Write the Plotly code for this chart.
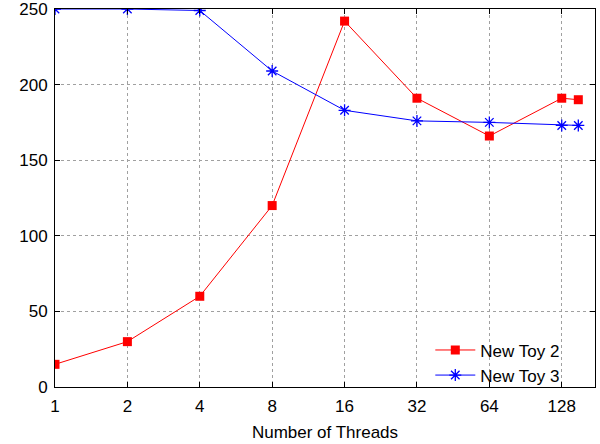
import math
import plotly.graph_objects as go

threads = [1, 2, 4, 8, 16, 32, 64, 128, 150]
tick_vals = [1, 2, 4, 8, 16, 32, 64, 128]
tick_text = ["1", "2", "4", "8", "16", "32", "64", "128"]
y_ticks = [0, 50, 100, 150, 200, 250]
toy2 = [15, 30, 60, 120, 242, 191, 166, 191, 190]
toy3 = [250, 250, 249, 209, 183, 176, 175, 173, 173]

FONT = "Liberation Sans, Arial, sans-serif"

fig = go.Figure()
fig.add_trace(go.Scatter(
    x=threads, y=toy2, name="New Toy 2", mode="lines+markers",
    line=dict(color="#ff0000", width=1),
    marker=dict(symbol="square", size=9, color="#ff0000"),
))
fig.add_trace(go.Scatter(
    x=threads, y=toy3, name="New Toy 3", mode="lines+markers",
    line=dict(color="#0000ff", width=1),
    marker=dict(symbol="asterisk-open", size=10, color="#0000ff",
                line=dict(color="#0000ff", width=1.3)),
))

fig.update_layout(
    width=600, height=444,
    margin=dict(l=55, r=5, t=9, b=57, autoexpand=False),
    paper_bgcolor="white", plot_bgcolor="white",
    font=dict(family=FONT, size=17, color="black"),
    showlegend=True,
    legend=dict(x=0.945, y=-0.017, xanchor="right", yanchor="bottom",
                bgcolor="rgba(0,0,0,0)", font=dict(size=17),
                itemwidth=40, tracegroupgap=0),
    xaxis=dict(
        type="log", range=[0, math.log10(176)], automargin=False,
        tickvals=tick_vals, ticktext=tick_text,
        showline=True, linecolor="black", linewidth=1, mirror="allticks",
        ticks="inside", ticklen=5, tickcolor="black",
        showgrid=True, gridcolor="#a0a0a0", griddash="dot", gridwidth=1,
        zeroline=False, ticklabelstandoff=4, ticklabeloverflow="allow",
        title=dict(text="Number of Threads", font=dict(size=17), standoff=10),
    ),
    yaxis=dict(
        range=[0, 250], tickvals=y_ticks, automargin=False,
        showline=True, linecolor="black", linewidth=1, mirror="allticks",
        ticks="inside", ticklen=5, tickcolor="black",
        showgrid=True, gridcolor="#a0a0a0", griddash="dot", gridwidth=1,
        zeroline=False, ticklabelstandoff=3, ticklabeloverflow="allow",
    ),
)

fig.write_html("out.html", config={"displayModeBar": False},
               post_script="document.body.style.margin='0';")
